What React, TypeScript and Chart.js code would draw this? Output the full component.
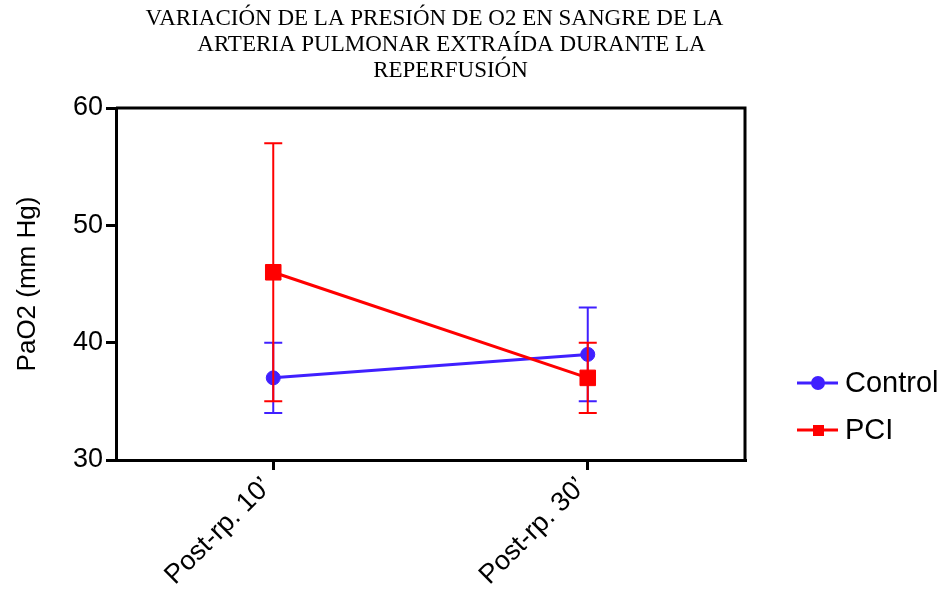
import { useEffect, useRef } from "react";
import { Chart, registerables } from "chart.js";
Chart.register(...registerables);

const categories = ["Post-rp. 10’", "Post-rp. 30’"];
const seriesNames = ["Control", "PCI"];
const controlMean = [37, 39];
const controlLow = [34, 35];
const controlHigh = [40, 43];
const pciMean = [46, 37];
const pciLow = [35, 34];
const pciHigh = [57, 40];
const yTicks = [30, 40, 50, 60];
const titleLines = [
  "VARIACIÓN DE LA PRESIÓN DE O2 EN SANGRE DE LA",
  "ARTERIA PULMONAR EXTRAÍDA DURANTE LA",
  "REPERFUSIÓN",
];
const yTitle = "PaO2 (mm Hg)";

const BLUE = "#4020ff";
const RED = "#ff0000";
const SANS = "'Liberation Sans', Arial, sans-serif";
const SERIF = "'Liberation Serif', 'Times New Roman', serif";

const errorBars = {
  id: "errorBars",
  afterDatasetDraw(chart: any, args: any) {
    const ds = chart.data.datasets[args.index];
    const ys = chart.scales.y;
    const ctx = chart.ctx;
    ctx.save();
    ctx.strokeStyle = ds.borderColor;
    ctx.lineWidth = 2;
    args.meta.data.forEach((pt: any, i: number) => {
      const x = pt.x;
      const yl = ys.getPixelForValue(ds.errLow[i]);
      const yh = ys.getPixelForValue(ds.errHigh[i]);
      ctx.beginPath();
      ctx.moveTo(x, yl);
      ctx.lineTo(x, yh);
      ctx.moveTo(x - 9, yl);
      ctx.lineTo(x + 9, yl);
      ctx.moveTo(x - 9, yh);
      ctx.lineTo(x + 9, yh);
      ctx.stroke();
    });
    ctx.restore();
  },
};

const decor = {
  id: "decor",
  afterDraw(chart: any) {
    const ctx = chart.ctx;
    const a = chart.chartArea;
    ctx.save();
    // frame top & right
    ctx.strokeStyle = "#000";
    ctx.lineWidth = 3;
    ctx.beginPath();
    ctx.moveTo(a.left, a.top);
    ctx.lineTo(a.right, a.top);
    ctx.lineTo(a.right, a.bottom);
    ctx.stroke();

    // title
    ctx.fillStyle = "#000";
    ctx.font = `23px ${SERIF}`;
    ctx.textAlign = "center";
    ctx.textBaseline = "alphabetic";
    const cx = (a.left + a.right) / 2;
    const offs = [4, 21, 20];
    titleLines.forEach((t, i) => {
      ctx.fillText(t, cx + offs[i], 25 + i * 26);
    });

    // legend
    const colors = [BLUE, RED];
    const lx = a.right + 52;
    colors.forEach((c, i) => {
      const y = 383 + i * 47;
      ctx.strokeStyle = c;
      ctx.fillStyle = c;
      ctx.lineWidth = 3;
      ctx.beginPath();
      ctx.moveTo(lx, y);
      ctx.lineTo(lx + 41, y);
      ctx.stroke();
      if (i === 0) {
        ctx.beginPath();
        ctx.arc(lx + 21, y, 7, 0, Math.PI * 2);
        ctx.fill();
      } else {
        ctx.fillRect(lx + 16, y - 5, 11, 11);
      }
      ctx.fillStyle = "#000";
      ctx.font = `29px ${SANS}`;
      ctx.textAlign = "left";
      ctx.textBaseline = "middle";
      ctx.fillText(seriesNames[i], lx + 48, y + 1);
    });
    ctx.restore();
  },
};

export default function App() {
  const ref = useRef<HTMLCanvasElement>(null);
  useEffect(() => {
    document.body.style.margin = "0";
    document.body.style.overflow = "hidden";
    const axisGrid = {
      display: true,
      drawOnChartArea: false,
      drawTicks: true,
      tickLength: 10,
      color: "#000",
      lineWidth: 3,
      tickWidth: 3,
      offset: false,
    };
    const chart = new Chart(ref.current as HTMLCanvasElement, {
      type: "line",
      data: {
        labels: categories,
        datasets: [
          {
            label: seriesNames[0],
            data: controlMean,
            errLow: controlLow,
            errHigh: controlHigh,
            borderColor: BLUE,
            backgroundColor: BLUE,
            borderWidth: 3,
            pointStyle: "circle",
            pointRadius: 7,
            pointBorderWidth: 1,
            order: 1,
          } as any,
          {
            label: seriesNames[1],
            data: pciMean,
            errLow: pciLow,
            errHigh: pciHigh,
            borderColor: RED,
            backgroundColor: RED,
            borderWidth: 3,
            pointStyle: "rect",
            pointRadius: 11,
            pointBorderWidth: 1,
            order: 0,
          } as any,
        ],
      },
      options: {
        animation: false,
        responsive: false,
        maintainAspectRatio: false,
        layout: { padding: { top: 108, right: 202, left: 0, bottom: 0 } },
        plugins: {
          legend: { display: false },
          title: { display: false },
          tooltip: { enabled: false },
        },
        scales: {
          x: {
            offset: true,
            grid: axisGrid as any,
            border: { color: "#000", width: 3 },
            ticks: {
              font: { family: SANS, size: 27 },
              color: "#000",
              minRotation: 45,
              maxRotation: 45,
              padding: 1,
              labelOffset: -6,
            },
            afterFit: (s: any) => {
              s.height = 132;
            },
          },
          y: {
            min: 30,
            max: 60,
            afterBuildTicks: (s: any) => {
              s.ticks = yTicks.map((v) => ({ value: v }));
            },
            grid: axisGrid as any,
            border: { color: "#000", width: 3 },
            ticks: {
              font: { family: SANS, size: 27 },
              color: "#000",
              padding: 3,
            },
            title: {
              display: true,
              text: yTitle,
              font: { family: SANS, size: 26 },
              color: "#000",
              padding: { top: 12, bottom: 0 },
            },
            afterFit: (s: any) => {
              s.width = 116;
            },
          },
        },
      },
      plugins: [errorBars, decor],
    });
    return () => chart.destroy();
  }, []);
  return (
    <div style={{ width: 947, height: 592 }}>
      <canvas ref={ref} width={947} height={592} style={{ display: "block" }} />
    </div>
  );
}
